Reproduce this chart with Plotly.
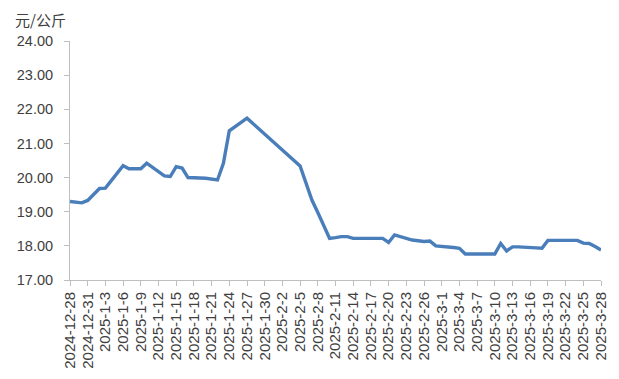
import plotly.graph_objects as go

dates = [
    "2024-12-28", "2024-12-30", "2024-12-31", "2025-01-02", "2025-01-03",
    "2025-01-06", "2025-01-07", "2025-01-08", "2025-01-09", "2025-01-10",
    "2025-01-13", "2025-01-14", "2025-01-15", "2025-01-16", "2025-01-17",
    "2025-01-20", "2025-01-21", "2025-01-22", "2025-01-23", "2025-01-24",
    "2025-01-26", "2025-01-27", "2025-02-05", "2025-02-06", "2025-02-07",
    "2025-02-08", "2025-02-10", "2025-02-11", "2025-02-12", "2025-02-13",
    "2025-02-14", "2025-02-17", "2025-02-18", "2025-02-19", "2025-02-20",
    "2025-02-21", "2025-02-24", "2025-02-25", "2025-02-26", "2025-02-27",
    "2025-02-28", "2025-03-03", "2025-03-04", "2025-03-05", "2025-03-06",
    "2025-03-07", "2025-03-10", "2025-03-11", "2025-03-12", "2025-03-13",
    "2025-03-14", "2025-03-17", "2025-03-18", "2025-03-19", "2025-03-20",
    "2025-03-21", "2025-03-24", "2025-03-25", "2025-03-26", "2025-03-27",
    "2025-03-28",
]
prices = [
    19.30, 19.26, 19.33, 19.68, 19.69,
    20.35, 20.26, 20.25, 20.26, 20.42,
    20.05, 20.03, 20.32, 20.28, 20.00,
    19.98, 19.96, 19.93, 20.42, 21.37,
    21.62, 21.74, 20.34, 19.82, 19.34,
    18.98, 18.22, 18.24, 18.27, 18.27,
    18.22, 18.22, 18.22, 18.22, 18.10,
    18.32, 18.17, 18.14, 18.13, 18.14,
    18.00, 17.95, 17.93, 17.76, 17.76,
    17.76, 17.76, 18.07, 17.85, 17.97,
    17.97, 17.94, 17.93, 18.16, 18.16,
    18.16, 18.16, 18.08, 18.07, 17.98,
    17.88,
]

tick_dates = [
    "2024-12-28", "2024-12-31", "2025-01-03", "2025-01-06", "2025-01-09",
    "2025-01-12", "2025-01-15", "2025-01-18", "2025-01-21", "2025-01-24",
    "2025-01-27", "2025-01-30", "2025-02-02", "2025-02-05", "2025-02-08",
    "2025-02-11", "2025-02-14", "2025-02-17", "2025-02-20", "2025-02-23",
    "2025-02-26", "2025-03-01", "2025-03-04", "2025-03-07", "2025-03-10",
    "2025-03-13", "2025-03-16", "2025-03-19", "2025-03-22", "2025-03-25",
    "2025-03-28",
]
tick_labels = [
    "2024-12-28", "2024-12-31", "2025-1-3", "2025-1-6", "2025-1-9",
    "2025-1-12", "2025-1-15", "2025-1-18", "2025-1-21", "2025-1-24",
    "2025-1-27", "2025-1-30", "2025-2-2", "2025-2-5", "2025-2-8",
    "2025-2-11", "2025-2-14", "2025-2-17", "2025-2-20", "2025-2-23",
    "2025-2-26", "2025-3-1", "2025-3-4", "2025-3-7", "2025-3-10",
    "2025-3-13", "2025-3-16", "2025-3-19", "2025-3-22", "2025-3-25",
    "2025-3-28",
]
y_title = "元/公斤"

fig = go.Figure()
fig.add_trace(go.Scatter(
    x=dates, y=prices, mode="lines",
    line=dict(color="#4a7ebb", width=3.4),
    hoverinfo="x+y",
))

font_family = "Liberation Sans, Arial, Noto Sans CJK SC, sans-serif"
fig.update_layout(
    width=611, height=371,
    margin=dict(l=62, r=18, t=33, b=99, autoexpand=False),
    paper_bgcolor="white", plot_bgcolor="white",
    showlegend=False,
    font=dict(family=font_family, size=14, color="#404040"),
    xaxis=dict(
        type="date", automargin=False,
        range=["2024-12-28", "2025-03-28"],
        tickmode="array", tickvals=tick_dates, ticktext=tick_labels,
        tickangle=-90,
        ticks="outside", ticklen=5, tickcolor="#bfbfbf",
        showline=True, linecolor="#bfbfbf", linewidth=1,
        showgrid=False, zeroline=False,
        tickfont=dict(size=15, color="#404040"),
    ),
    yaxis=dict(
        automargin=False,
        range=[17, 24], dtick=1, tick0=17, tickformat=".2f",
        ticks="outside", ticklen=5, tickcolor="#bfbfbf",
        ticklabelstandoff=8,
        showline=True, linecolor="#bfbfbf", linewidth=1,
        showgrid=False, zeroline=False,
        tickfont=dict(size=14.5, color="#404040"),
    ),
    annotations=[dict(
        text=y_title, xref="paper", yref="paper",
        x=-0.107, y=1.0, yshift=22, xanchor="left", yanchor="middle",
        showarrow=False, font=dict(size=15, color="#404040",
                                   family="Noto Sans CJK SC, sans-serif"),
    )],
)

fig.write_html("out.html")
